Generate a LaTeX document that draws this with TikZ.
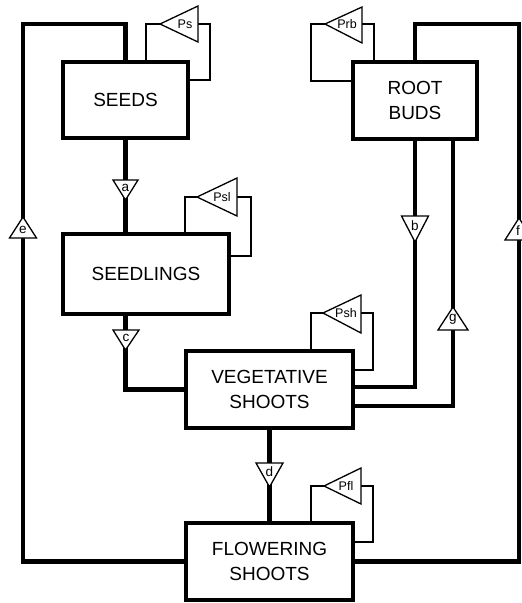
\documentclass[tikz,border=0pt]{standalone}
\usepackage{fontspec}
\setmainfont{Liberation Sans}
\begin{document}
\begin{tikzpicture}[x=1pt,y=-1pt,
  box/.style={draw, line width=4pt, inner sep=0pt, align=center,
    font=\fontsize{19}{25}\selectfont},
  heavy/.style={line width=4.2pt},
  fine/.style={line width=1.3pt},
  tri/.style={draw, fill=white, line width=1.3pt, line join=miter},
  plbl/.style={inner sep=0pt, font=\fontsize{12.5}{12.5}\selectfont},
  albl/.style={inner sep=0pt, font=\fontsize{13.5}{13.5}\selectfont}]
\useasboundingbox (0,0) rectangle (522,603);

% boxes
\node[box, minimum width=125pt, minimum height=76pt] (seeds) at (125.5,100) {SEEDS};
\node[box, minimum width=166pt, minimum height=80pt] (seedl) at (146,274) {SEEDLINGS};
\node[box, minimum width=167pt, minimum height=77pt] (veg) at (269.5,389.5) {VEGETATIVE\\SHOOTS};
\node[box, minimum width=124pt, minimum height=77pt] (root) at (415,100.5) {ROOT\\BUDS};
\node[box, minimum width=167pt, minimum height=77pt] (flow) at (269.5,561.5) {FLOWERING\\SHOOTS};

% corner coordinates
\coordinate (eTL) at (23,24);
\coordinate (fTR) at (519,24);

% heavy connectors
\draw[heavy] (flow.west) -| (eTL) -| (seeds.north);
\draw[heavy] (flow.east) -| (fTR) -| (root.north);
\draw[heavy] (seeds.south) -- (seeds.south |- seedl.north);
\draw[heavy] (seeds.south |- seedl.south) |- (veg.west);
\draw[heavy] (veg.south) -- (flow.north);
\draw[heavy] (root.south) |- ([yshift=2.5pt]veg.east);
\draw[heavy] ([yshift=-16.5pt]veg.east) -| ([xshift=38pt]root.south);

% feedback loops (thin)
\coordinate (psTip) at (160,24);   \coordinate (psBase) at (198,24);
\coordinate (pslTip) at (197,197); \coordinate (pslBase) at (237,197);
\coordinate (pshTip) at (323,313); \coordinate (pshBase) at (361,313);
\coordinate (prbTip) at (325,24);  \coordinate (prbBase) at (362,24);
\coordinate (pflTip) at (324,486); \coordinate (pflBase) at (361,486);

\draw[fine] (seeds.north -| 146,0) |- (psTip);
\draw[fine] (psBase) -- (210,24) |- (seeds.east |- 0,80);
\draw[fine] (seedl.north -| 185,0) |- (pslTip);
\draw[fine] (pslBase) -- (251,197) |- (seedl.east |- 0,256);
\draw[fine] (veg.north -| 311,0) |- (pshTip);
\draw[fine] (pshBase) -- (373,313) |- (veg.east |- 0,370);
\draw[fine] (prbBase) -- (374,24) -- (root.north -| 374,0);
\draw[fine] (prbTip) -- (311,24) |- (root.west |- 0,81);
\draw[fine] (flow.north -| 311,0) |- (pflTip);
\draw[fine] (pflBase) -- (373,486) |- (flow.east |- 0,542);

% amplifier triangles
\draw[tri] (psTip) -- (198,6) -- (198,42) -- cycle;
\draw[tri] (pslTip) -- (237,178) -- (237,216) -- cycle;
\draw[tri] (pshTip) -- (361,295) -- (361,333) -- cycle;
\draw[tri] (prbTip) -- (362,7) -- (362,43) -- cycle;
\draw[tri] (pflTip) -- (361,468) -- (361,504) -- cycle;
\node[plbl] (ps) at (185,24) {Ps};
\node[plbl] (psl) at (222,197) {Psl};
\node[plbl] (psh) at (346,313) {Psh};
\node[plbl] (prb) at (347,24) {Prb};
\node[plbl] (pfl) at (346,486) {Pfl};

% flow triangles
\draw[tri] (113,180) -- (138,180) -- (125.5,200) -- cycle;
\draw[tri] (113,330) -- (139,330) -- (125.5,350) -- cycle;
\draw[tri] (401.5,216) -- (428.5,216) -- (415,242) -- cycle;
\draw[tri] (256,463) -- (283,463) -- (269.5,487) -- cycle;
\draw[tri] (9.5,238) -- (36.5,238) -- (23,217) -- cycle;
\draw[tri] (505,240) -- (533,240) -- (519,218) -- cycle;
\draw[tri] (438,330) -- (468,330) -- (453,307) -- cycle;
\node[albl] (a) at (125.5,188) {a};
\node[albl] (c) at (126,338) {c};
\node[albl] (b) at (415,226) {b};
\node[albl] (d) at (269.5,472) {d};
\node[albl] (e) at (23,230) {e};
\node[albl] (f) at (518,231) {f};
\node[albl] (g) at (453,319) {g};
\end{tikzpicture}
\end{document}
